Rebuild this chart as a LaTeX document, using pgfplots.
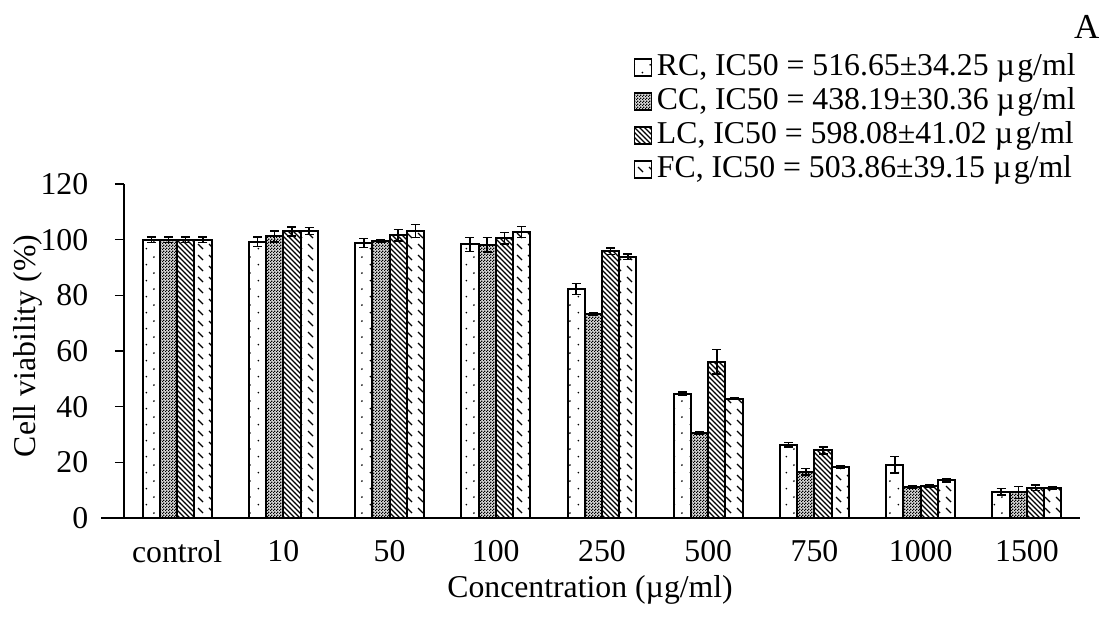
\documentclass[border=0pt]{standalone}
\usepackage{fontspec}
\setmainfont{Liberation Serif}
\usepackage{pgfplots}
\usepackage{pgfplotstable}
\pgfplotsset{compat=1.18}
\usetikzlibrary{patterns}

% sparse staggered dots (RC)
\pgfdeclarepatternformonly{sparsedots}{\pgfpointorigin}{\pgfqpoint{6.4pt}{6.4pt}}{\pgfqpoint{6.4pt}{6.4pt}}{%
  \pgfpathcircle{\pgfqpoint{1.0pt}{1.0pt}}{0.4pt}%
  \pgfpathcircle{\pgfqpoint{4.2pt}{4.2pt}}{0.4pt}%
  \pgfusepath{fill}}
% fine checkerboard (CC)
\pgfdeclarepatternformonly{finechecker}{\pgfpointorigin}{\pgfqpoint{1.2pt}{1.2pt}}{\pgfqpoint{1.2pt}{1.2pt}}{%
  \pgfpathrectangle{\pgfpointorigin}{\pgfqpoint{0.6pt}{0.6pt}}%
  \pgfpathrectangle{\pgfqpoint{0.6pt}{0.6pt}}{\pgfqpoint{0.6pt}{0.6pt}}%
  \pgfusepath{fill}}
% dense descending diagonals (LC)
\pgfdeclarepatternformonly{densenw}{\pgfqpoint{-1pt}{-1pt}}{\pgfqpoint{3pt}{3pt}}{\pgfqpoint{2pt}{2pt}}{%
  \pgfsetlinewidth{0.45pt}%
  \pgfpathmoveto{\pgfqpoint{0pt}{2pt}}%
  \pgfpathlineto{\pgfqpoint{2.1pt}{-0.1pt}}%
  \pgfusepath{stroke}}
% dashed descending diagonals (FC)
\pgfdeclarepatternformonly{dashnw}{\pgfqpoint{-1pt}{-1pt}}{\pgfqpoint{5.4pt}{5.4pt}}{\pgfqpoint{4.4pt}{4.4pt}}{%
  \pgfsetlinewidth{0.55pt}%
  \pgfpathmoveto{\pgfqpoint{0pt}{4.4pt}}%
  \pgfpathlineto{\pgfqpoint{2.0pt}{2.4pt}}%
  \pgfusepath{stroke}}

\pgfplotstableread{
x  rc    rce  cc    cce  lc    lce  fc    fce
0  100.0 1.0  100.0 1.0  100.0 1.0  100.0 1.0
1  99.2  1.7  101.2 2.0  103.0 1.6  103.1 1.3
2  98.8  1.6  99.5  0.6  101.6 2.1  103.1 2.3
3  98.3  2.5  98.2  2.6  100.5 2.1  102.8 2.0
4  82.3  2.0  73.3  0.5  95.9  1.2  93.8  1.0
5  44.7  0.5  30.6  0.4  56.2  4.4  42.9  0.4
6  26.3  0.8  16.6  1.2  24.3  1.3  18.3  0.5
7  19.1  3.0  11.2  0.4  11.4  0.4  13.6  0.6
8  9.4   1.2  9.2   2.2  10.8  1.0  10.8  0.4
}\viab

\pgfplotsset{
  legbox/.style={legend image code/.code={%
    \draw[##1,line width=0.5pt] (0pt,-3.4pt) rectangle (6.8pt,3.4pt);}},
}

\begin{document}
\fontsize{12.7}{15}\selectfont
\begin{tikzpicture}
\begin{axis}[
  name=ax,
  scale only axis,
  width=382.4pt, height=133.6pt,
  ybar=0pt, bar width=6.88pt,
  xmin=-0.5, xmax=8.5,
  ymin=0, ymax=120,
  ytick={0,20,...,120},
  xtick=data,
  xticklabels={control,10,50,100,250,500,750,1000,1500},
  axis x line*=bottom, axis y line*=left,
  axis line style={line width=0.6pt, black},
  x axis line style={shorten <=-9pt},
  tick align=outside, major tick length=3.6pt,
  ytick style={line width=0.6pt, black},
  xtick style={draw=none},
  /pgf/number format/assume math mode=true,
  yticklabel style={inner xsep=0pt, xshift=-10.5pt},
  xticklabel style={yshift=-1pt},
  ylabel={Cell viability (\%)},
  xlabel={Concentration (µg/ml)},
  ylabel style={at={(axis description cs:-0.1,0.515)}, anchor=center},
  xlabel style={at={(axis description cs:0.4875,-0.215)}, anchor=center},
  every axis plot/.append style={draw=black, line width=0.8pt},
  error bars/error bar style={line width=0.6pt, black},
  error bars/error mark options={rotate=90, mark size=1.8pt, line width=0.6pt, black},
  legend style={at={(1.009,1.41)}, anchor=north east, draw=none, fill=none,
    row sep=1.6pt,
    nodes={inner xsep=2pt, inner ysep=0pt, text height=9pt, text depth=3pt}},
  legend cell align=left,
  clip=false,
]
\addplot[legbox, pattern=sparsedots, error bars/.cd, y dir=both, y explicit]
  table[x=x, y=rc, y error=rce]{\viab};
\addlegendentry{RC, IC50 = 516.65±34.25 µ\kern1pt g/ml}
\addplot[legbox, fill=black!15, postaction={pattern=finechecker}, error bars/.cd, y dir=both, y explicit]
  table[x=x, y=cc, y error=cce]{\viab};
\addlegendentry{CC, IC50 = 438.19±30.36 µ\kern1pt g/ml}
\addplot[legbox, pattern=densenw, error bars/.cd, y dir=both, y explicit]
  table[x=x, y=lc, y error=lce]{\viab};
\addlegendentry{LC, IC50 = 598.08±41.02 µ\kern1pt g/ml}
\addplot[legbox, pattern=dashnw, error bars/.cd, y dir=both, y explicit]
  table[x=x, y=fc, y error=fce]{\viab};
\addlegendentry{FC, IC50 = 503.86±39.15 µ\kern1pt g/ml}
\node[font=\fontsize{14}{16}\selectfont] at (axis description cs:1.007,1.47) {A};
\end{axis}
\pgfresetboundingbox
\path ([shift={(-49.6pt,-40pt)}]ax.south west) rectangle ([shift={(390.8pt,207.2pt)}]ax.south west);
\end{tikzpicture}
\end{document}
